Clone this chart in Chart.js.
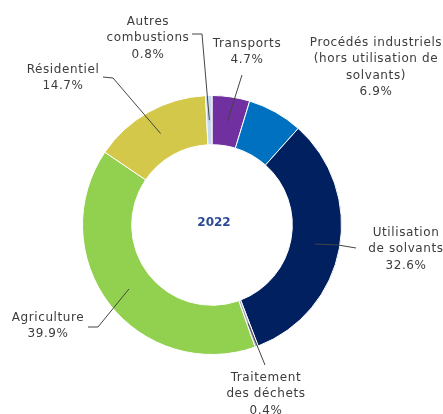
<!DOCTYPE html>
<html>
<head>
<meta charset="utf-8">
<script src="https://cdn.jsdelivr.net/npm/chart.js@4"></script>
<style>
  html, body { margin: 0; padding: 0; background: #fff; }
  #wrap { width: 443px; height: 414px; position: relative; }
</style>
</head>
<body>
<div id="wrap"><canvas id="chart"></canvas></div>
<script>
// data, clockwise from 12 o'clock
const categories = [
    ['Transports'],
    ['Procédés industriels', '(hors utilisation de', 'solvants)'],
    ['Utilisation', 'de solvants'],
    ['Traitement', 'des déchets'],
    ['Agriculture'],
    ['Résidentiel'],
    ['Autres', 'combustions']
];
const shares = [4.7, 6.9, 32.6, 0.4, 39.9, 14.7, 0.8];
const centerTitle = '2022';

const colors = ['#7030a0', '#0070c0', '#002060', '#a9a3c4', '#92d050', '#d4c84a', '#c6d9f1'];

// label placement (text centre x, first line y) and leader line waypoints, ending at the ring
const labelLayout = [
    { x: 247, y: 44, leader: [[242, 75]] },
    { x: 376, y: 43, leader: null },
    { x: 406, y: 233, leader: [[356, 248], [338, 245]] },
    { x: 266, y: 378, leader: [[265, 365]] },
    { x: 48, y: 318, leader: [[88, 327], [98, 327]] },
    { x: 63, y: 70, leader: [[103, 77], [113, 78]] },
    { x: 148, y: 22, leader: [[192, 34], [202, 34]] }
];

const labelPlugin = {
    id: 'sliceLabels',
    afterDraw(chart) {
        const ctx = chart.ctx;
        const arcs = chart.getDatasetMeta(0).data;
        ctx.save();
        arcs.forEach((arc, i) => {
            const lay = labelLayout[i];
            const p = arc.getProps(['x', 'y', 'startAngle', 'endAngle', 'innerRadius', 'outerRadius'], true);
            const mid = (p.startAngle + p.endAngle) / 2;
            const r = (p.innerRadius + p.outerRadius) / 2;
            const sx = p.x + Math.cos(mid) * r;
            const sy = p.y + Math.sin(mid) * r;

            if (lay.leader) {
                ctx.strokeStyle = '#444444';
                ctx.lineWidth = 1;
                ctx.beginPath();
                ctx.moveTo(lay.leader[0][0], lay.leader[0][1]);
                lay.leader.slice(1).forEach(pt => ctx.lineTo(pt[0], pt[1]));
                ctx.lineTo(sx, sy);
                ctx.stroke();
            }

            const lines = categories[i].concat([shares[i].toFixed(1) + '%']);
            ctx.fillStyle = '#3c3c3c';
            ctx.font = '12px "DejaVu Sans"';
            ctx.letterSpacing = '0.6px';
            ctx.textAlign = 'center';
            ctx.textBaseline = 'middle';
            lines.forEach((t, k) => {
                ctx.fillText(t, lay.x, lay.y + k * 16.3);
            });
        });

        const c = arcs[0];
        ctx.fillStyle = '#2c4a96';
        ctx.font = 'bold 12px "DejaVu Sans"';
        ctx.letterSpacing = '0px';
        ctx.textAlign = 'center';
        ctx.textBaseline = 'middle';
        ctx.fillText(centerTitle, c.x + 2, c.y - 2);
        ctx.restore();
    }
};

new Chart(document.getElementById('chart'), {
    type: 'doughnut',
    data: {
        labels: categories.map(c => c.join(' ')),
        datasets: [{
            data: shares,
            backgroundColor: colors,
            borderColor: '#ffffff',
            borderWidth: 1
        }]
    },
    options: {
        responsive: true,
        maintainAspectRatio: false,
        animation: false,
        cutout: '62%',
        layout: {
            padding: { left: 82, right: 101, top: 95, bottom: 59 }
        },
        plugins: {
            legend: { display: false },
            tooltip: { enabled: false }
        }
    },
    plugins: [labelPlugin]
});
</script>
</body>
</html>
